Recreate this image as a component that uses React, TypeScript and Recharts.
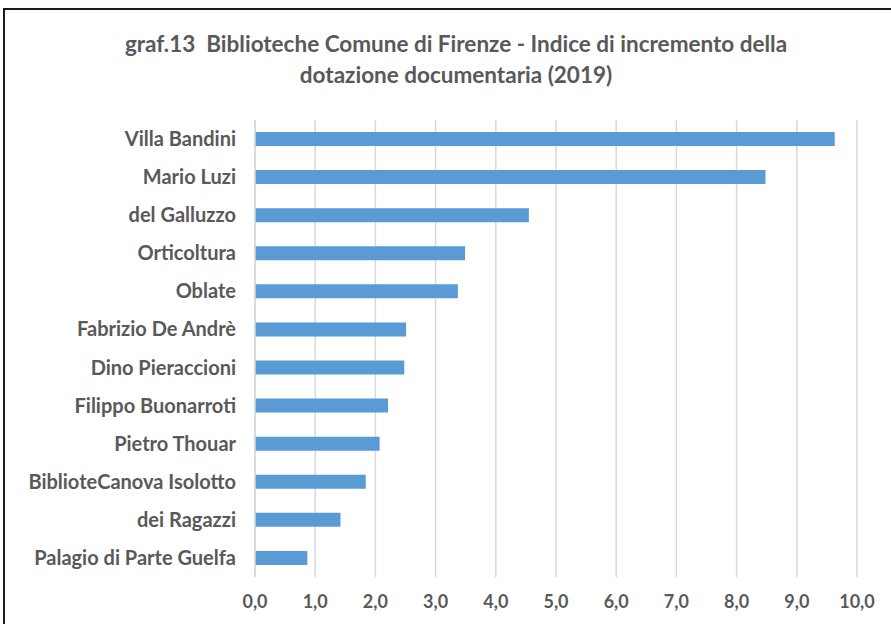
import React from "react";
import { BarChart, Bar, XAxis, YAxis, CartesianGrid } from "recharts";

// ─── Data ─────────────────────────────────────────────────────────────────────

const libraries = [
  "Villa Bandini",
  "Mario Luzi",
  "del Galluzzo",
  "Orticoltura",
  "Oblate",
  "Fabrizio De Andrè",
  "Dino Pieraccioni",
  "Filippo Buonarroti",
  "Pietro Thouar",
  "BiblioteCanova Isolotto",
  "dei Ragazzi",
  "Palagio di Parte Guelfa",
];

const indexValues = [9.63, 8.48, 4.55, 3.49, 3.37, 2.51, 2.48, 2.21, 2.07, 1.84, 1.42, 0.87];

const xTicks = [0, 1, 2, 3, 4, 5, 6, 7, 8, 9, 10];

const chartData = libraries.map((name, i) => ({ name, value: indexValues[i] }));

const FONT = "Lato, 'Open Sans', sans-serif";
const TEXT = "#595959";

const fmt = (v: number) => v.toFixed(1).replace(".", ",");

function CategoryTick({ x, y, payload }: any) {
  return (
    <text
      x={x - 11}
      y={y}
      dy={7}
      textAnchor="end"
      fontFamily={FONT}
      fontWeight={700}
      fontSize={20}
      fill={TEXT}
    >
      {payload.value}
    </text>
  );
}

function ValueTick({ x, y, payload }: any) {
  return (
    <text
      x={x}
      y={y}
      dy={23}
      textAnchor="middle"
      fontFamily={FONT}
      fontWeight={700}
      fontSize={18}
      fill={TEXT}
    >
      {fmt(payload.value)}
    </text>
  );
}

export default function App() {
  return (
    <div
      style={{
        position: "absolute",
        left: 0,
        top: 0,
        width: 891,
        height: 624,
        overflow: "hidden",
        background: "#fff",
      }}
    >
      {/* chart frame, cropped on the right and bottom */}
      <div
        style={{
          position: "absolute",
          left: 3,
          top: 8,
          width: 920,
          height: 660,
          border: "2px solid #1a1a1a",
          boxSizing: "border-box",
        }}
      />
      <div
        style={{
          position: "absolute",
          left: 0,
          top: 28,
          width: 912,
          textAlign: "center",
          fontFamily: FONT,
          fontWeight: 700,
          fontSize: 22.5,
          lineHeight: "31px",
          color: TEXT,
        }}
      >
        graf.13&nbsp; Biblioteche Comune di Firenze - Indice di incremento della
        <br />
        dotazione documentaria (2019)
      </div>
      <div style={{ position: "absolute", left: 0, top: 0 }}>
        <BarChart
          width={891}
          height={624}
          data={chartData}
          layout="vertical"
          margin={{ top: 120, right: 34, bottom: 0, left: 0 }}
          barCategoryGap={12}
        >
          <CartesianGrid vertical horizontal={false} stroke="#d9d9d9" strokeWidth={1.5} />
          <XAxis
            type="number"
            domain={[0, 10]}
            ticks={xTicks}
            height={47}
            axisLine={false}
            tickLine={false}
            tick={<ValueTick />}
            interval={0}
          />
          <YAxis
            type="category"
            dataKey="name"
            width={255}
            axisLine={{ stroke: "#d9d9d9", strokeWidth: 1.5 }}
            tickLine={false}
            tick={<CategoryTick />}
            interval={0}
          />
          <Bar dataKey="value" fill="#5b9bd5" barSize={14} isAnimationActive={false} />
        </BarChart>
      </div>
    </div>
  );
}
